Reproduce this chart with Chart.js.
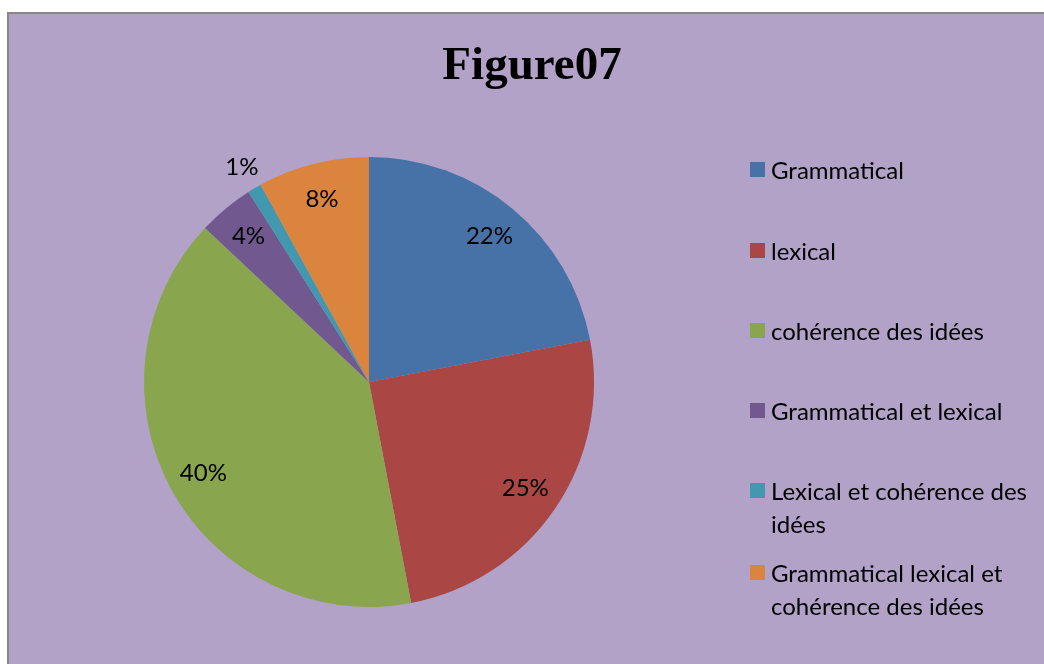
<!DOCTYPE html>
<html>
<head>
<meta charset="utf-8">
<script src="https://cdn.jsdelivr.net/npm/chart.js@4"></script>
<style>
    body { margin: 0; background: #fff; }
    #frame {
        position: absolute; left: 7px; top: 12px; width: 1035px; height: 650px;
        border-left: 2px solid #878787; border-top: 2px solid #878787;
        background: #b2a2c8; overflow: hidden;
    }
    #chartBox { position: absolute; left: 0; top: 0; width: 1035px; height: 650px; }
    #title {
        position: absolute; left: 0; width: 1044px; top: 22px; margin-left: 1px;
        text-align: center; font: bold 47px "Liberation Serif", "Times New Roman", serif; color: #000;
    }
    #legend {
        position: absolute; left: 741px; top: 125px; width: 296px;
        font: 24px Lato, "Open Sans", sans-serif; color: #000;
    }
    .item { position: absolute; left: 0; padding-left: 21px; line-height: 33px; }
    .item span.box {
        position: absolute; left: 0; top: 9px; width: 15px; height: 15px;
    }
</style>
</head>
<body>
<div id="frame">
    <div id="chartBox"><canvas id="pieChart"></canvas></div>
    <div id="title">Figure07</div>
    <div id="legend"></div>
</div>
<script>
const categories = ['Grammatical', 'lexical', 'cohérence des idées', 'Grammatical et lexical',
    'Lexical et cohérence des idées', 'Grammatical lexical et cohérence des idées'];
const percentages = [22, 25, 40, 4, 1, 8];
const sliceColors = ['#4672a8', '#aa4643', '#89a54e', '#71588f', '#4198af', '#db843d'];

// Legend rows (top of each entry, px inside legend box)
const legendTops = [14, 95, 175, 255, 335, 417];

function buildLegend() {
    const legend = document.getElementById('legend');
    legend.innerHTML = categories.map((name, i) => `
        <div class="item" style="top:${legendTops[i]}px">
            <span class="box" style="background:${sliceColors[i]}"></span>${name}
        </div>
    `).join('');
}

// Draws the percentage labels inside (or just outside) each slice
const sliceLabels = {
    id: 'sliceLabels',
    afterDatasetsDraw(chart) {
        const ctx = chart.ctx;
        const meta = chart.getDatasetMeta(0);
        ctx.save();
        ctx.font = '24px Lato, "Open Sans", sans-serif';
        ctx.fillStyle = '#000';
        ctx.textAlign = 'center';
        ctx.textBaseline = 'middle';
        meta.data.forEach((arc, i) => {
            const mid = (arc.startAngle + arc.endAngle) / 2;
            const factor = percentages[i] < 2 ? 1.11 : 0.84;
            const r = arc.outerRadius * factor;
            const x = arc.x + Math.cos(mid) * r;
            const y = arc.y + Math.sin(mid) * r;
            ctx.fillText(percentages[i] + '%', x, y);
        });
        ctx.restore();
    }
};

buildLegend();

new Chart(document.getElementById('pieChart'), {
    type: 'pie',
    data: {
        labels: categories,
        datasets: [{
            data: percentages,
            backgroundColor: sliceColors,
            borderWidth: 0
        }]
    },
    options: {
        responsive: true,
        maintainAspectRatio: false,
        animation: false,
        layout: {
            padding: { left: 135, right: 450, top: 143, bottom: 57 }
        },
        plugins: {
            legend: { display: false },
            tooltip: { enabled: false }
        }
    },
    plugins: [sliceLabels]
});
</script>
</body>
</html>
